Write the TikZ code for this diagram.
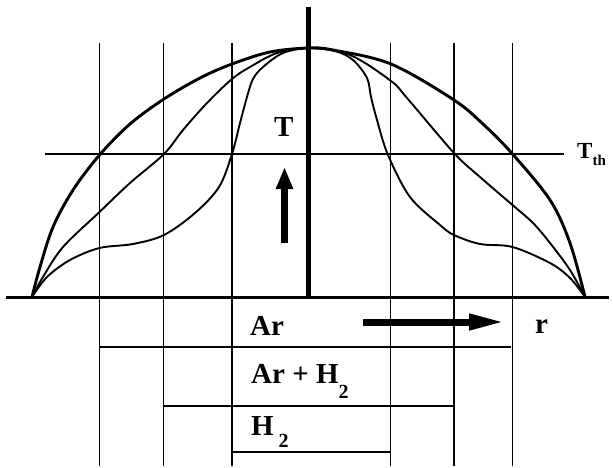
\documentclass[tikz,border=0pt]{standalone}
\usepackage{fontspec}
\setmainfont{Liberation Serif}
\usetikzlibrary{arrows.meta}
\newcommand\lowtwo[1]{\raisebox{-#1}{\fontsize{20}{20}\selectfont 2}}
\tikzset{
  grid/.style={line width=1.6pt},
  bar/.style={line width=2.6pt},
  curvethin/.style={line width=1.9pt, line join=round},
  curvethick/.style={line width=2.9pt, line join=round},
  lbl/.style={inner sep=0pt, anchor=base west, font=\fontsize{29}{29}\selectfont\bfseries},
  fatarrow/.style={line width=7.5pt, -{Triangle[length=22pt,width=16pt]}},
}
\begin{document}
\begin{tikzpicture}[x=1pt,y=-1pt]
\useasboundingbox (0,0) rectangle (613,468);
% vertical grid lines
\foreach \xx/\nm in {99.5/v1,163.5/v2,232/v3,390.5/v4,454/v5,512.5/v6}{
  \coordinate (\nm t) at (\xx,43);
  \coordinate (\nm b) at (\xx,466);
  \draw[grid] (\nm t) -- (\nm b);
}
% threshold line
\coordinate (thL) at (45,154);
\coordinate (thR) at (564,154);
\draw[grid] (thL) -- (thR);
% base line and axis
\coordinate (bL) at (6,297.5);
\coordinate (bR) at (609,297.5);
\draw[line width=3.2pt] (bL) -- (bR);
\coordinate (axT) at (308.5,7);
\coordinate (axB) at (308.5,297.5);
\draw[line width=5pt] (axT) -- (axB);
% outer curve
\draw[curvethick] plot[smooth, tension=0.55] coordinates {
 (32,297) (40,267) (53,227) (73,190) (99.5,155) (130,124) (164,99) (200,78) (232,64) (270,52) (308.5,48)
 (333,50) (391,64) (454,100) (484,125) (512.5,154) (550,200) (570,243) (585,297)};
% middle curve
\draw[curvethin] plot[smooth, tension=0.55] coordinates {
 (32,297) (43,277) (63,247) (99.5,212) (130,183) (164,154) (183,130) (207,103) (232,79) (250,67) (277,53) (308.5,48)
 (350,55) (391,81) (407,98) (454,153) (480,177) (512.5,205) (533,223) (550,243) (570,270) (585,297)};
% inner curve
\draw[curvethin] plot[smooth, tension=0.55] coordinates {
 (32,297) (47,277) (70,260) (99.5,248) (133,244) (164,235) (195,213) (219,187) (232,154) (240,123) (247,97) (253,79) (263,67) (283,53) (308.5,48)
 (335,51) (353,60) (367,78) (371,97) (377,120) (388,155) (410,197) (440,225) (454,235) (480,244) (512.5,247) (550,263) (570,278) (585,297)};
% bars
\coordinate (arL) at (100,347);   \coordinate (arR) at (511,347);
\coordinate (amL) at (164,406);   \coordinate (amR) at (454,406);
\coordinate (hL) at (232,452);    \coordinate (hR) at (390,452);
\draw[bar] (arL) -- (arR);
\draw[bar] (amL) -- (amR);
\draw[bar] (hL) -- (hR);
% arrows
\coordinate (upS) at (284.5,243);
\coordinate (upE) at (284.5,167);
\draw[fatarrow] (upS) -- (upE);
\coordinate (rtS) at (363,322);
\coordinate (rtE) at (505,322);
\draw[line width=7pt, -{Triangle[length=36pt,width=15pt]}] (rtS) -- (rtE);
% labels
\node[lbl] (T) at (274,137) {T};
\node[lbl, font=\fontsize{23}{23}\selectfont\bfseries] (Tth) at (577,159) {T\raisebox{-6pt}{\fontsize{15}{15}\selectfont th}};
\node[lbl] (ar) at (250,335) {Ar};
\node[lbl] (r) at (535,333) {r};
\node[lbl] (arh) at (251,383) {Ar + H\lowtwo{15pt}};
\node[lbl] (h2) at (251,435) {H\,\lowtwo{12pt}};
\end{tikzpicture}
\end{document}
